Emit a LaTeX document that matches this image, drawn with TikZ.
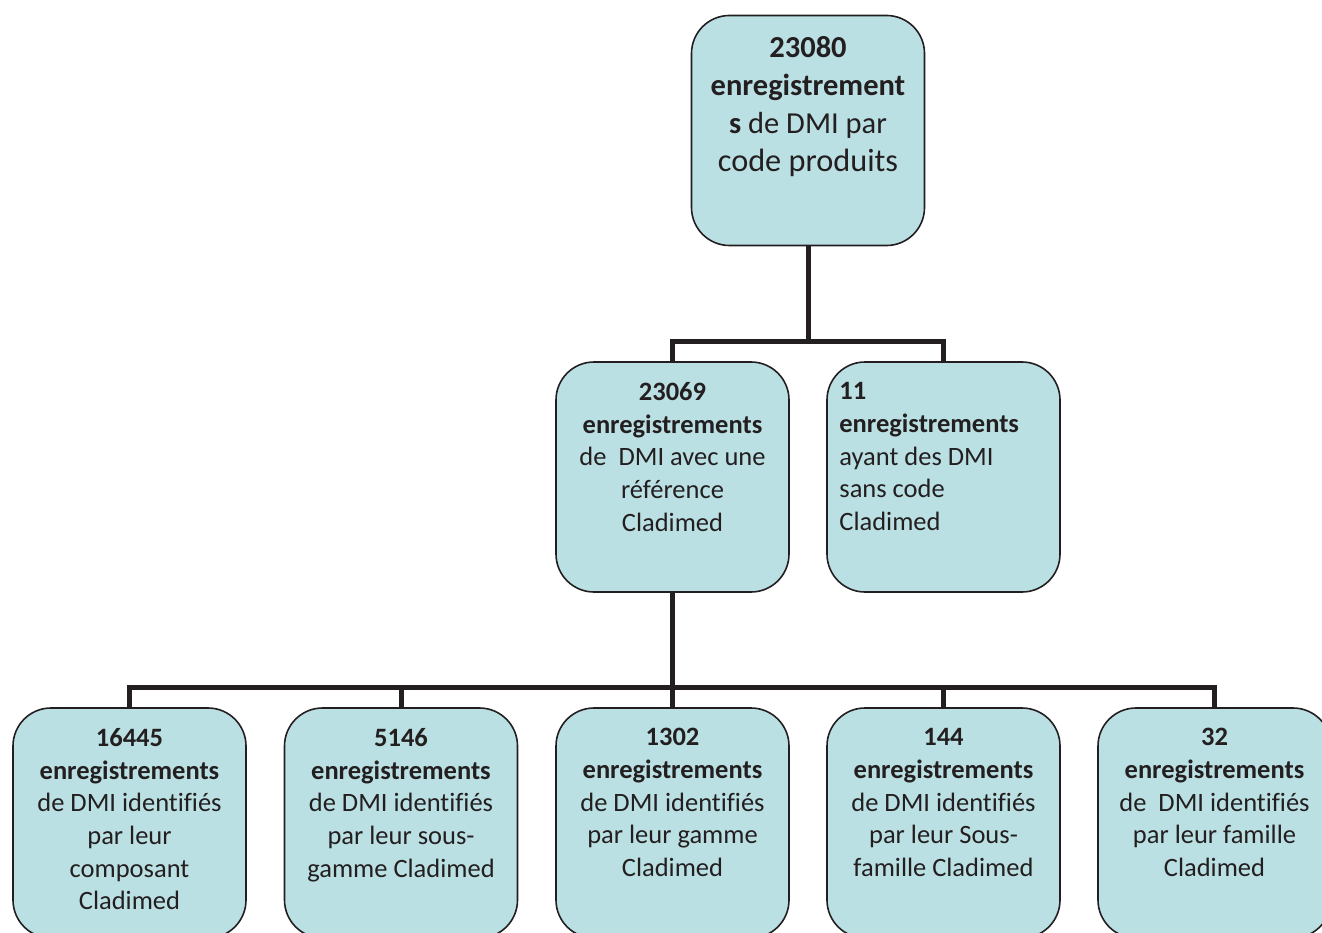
\documentclass[tikz,border=0pt]{standalone}
\usepackage{fontspec}
\setmainfont{Carlito}[Ligatures=NoCommon]
\definecolor{boxfill}{HTML}{BBE0E3}
\definecolor{boxline}{HTML}{231F20}
\tikzset{
  card/.style={draw=boxline, line width=1.6pt, fill=boxfill, rounded corners=38pt,
    minimum width=233pt, minimum height=230pt, inner sep=0pt},
  cardtext/.style={anchor=north, inner sep=0pt, align=center, text=boxline,
    font=\fontsize{26.5}{32.7}\selectfont},
  conn/.style={draw=boxline, line width=5pt},
}
\begin{document}
\begin{tikzpicture}[x=1pt,y=-1pt]
\useasboundingbox (0,0) rectangle (1322,933);
\clip (0,0) rectangle (1322,933);
% boxes
\node[card] (top) at (808,130.5) {};
\node[card] (m1) at (672.5,477) {};
\node[card] (m2) at (943.5,477) {};
\node[card] (b1) at (129.5,823) {};
\node[card] (b2) at (401,823) {};
\node[card] (b3) at (672.5,823) {};
\node[card] (b4) at (943.5,823) {};
\node[card] (b5) at (1214.5,823) {};
% texts
\node[cardtext, font=\fontsize{30.5}{38}\selectfont] (ttop) at ([yshift=-22pt]top.north)
  {\textbf{23080}\\ \textbf{enregistrement}\\ \textbf{s} de DMI par\\ \fontsize{32.3}{38}\selectfont code produits};
\node[cardtext] (tm1) at ([yshift=-21pt]m1.north)
  {\textbf{23069}\\ \textbf{enregistrements}\\ de\ \ DMI avec une\\ référence\\ Cladimed};
\node[cardtext, align=left, anchor=north west] (tm2) at ([xshift=13pt,yshift=-21pt]m2.north west)
  {\textbf{11}\\ \textbf{enregistrements}\\ ayant des DMI\\ sans code\\ Cladimed};
\node[cardtext] (tb1) at ([yshift=-21pt]b1.north)
  {\textbf{16445}\\ \textbf{enregistrements}\\ de DMI identifiés\\ par leur\\ composant\\ Cladimed};
\node[cardtext] (tb2) at ([yshift=-21pt]b2.north)
  {\textbf{5146}\\ \textbf{enregistrements}\\ de DMI identifiés\\ par leur sous-\\ gamme Cladimed};
\node[cardtext] (tb3) at ([yshift=-21pt]b3.north)
  {\textbf{1302}\\ \textbf{enregistrements}\\ de DMI identifiés\\ par leur gamme\\ Cladimed};
\node[cardtext] (tb4) at ([yshift=-21pt]b4.north)
  {\textbf{144}\\ \textbf{enregistrements}\\ de DMI identifiés\\ par leur Sous-\\ famille Cladimed};
\node[cardtext] (tb5) at ([yshift=-21pt]b5.north)
  {\textbf{32}\\ \textbf{enregistrements}\\ de\ \ DMI identifiés\\ par leur famille\\ Cladimed};
% connectors
\coordinate (j1) at (808,341);
\coordinate (j2) at (672.5,687);
\draw[conn] (top.south) -- (j1);
\draw[conn] (m1.north) -- (m1.north |- j1) -- (m2.north |- j1) -- (m2.north);
\draw[conn] (m1.south) -- (j2);
\draw[conn] (b1.north) -- (b1.north |- j2) -- (b5.north |- j2) -- (b5.north);
\draw[conn] (b2.north) -- (b2.north |- j2);
\draw[conn] (b3.north) -- (b3.north |- j2);
\draw[conn] (b4.north) -- (b4.north |- j2);
\end{tikzpicture}
\end{document}
